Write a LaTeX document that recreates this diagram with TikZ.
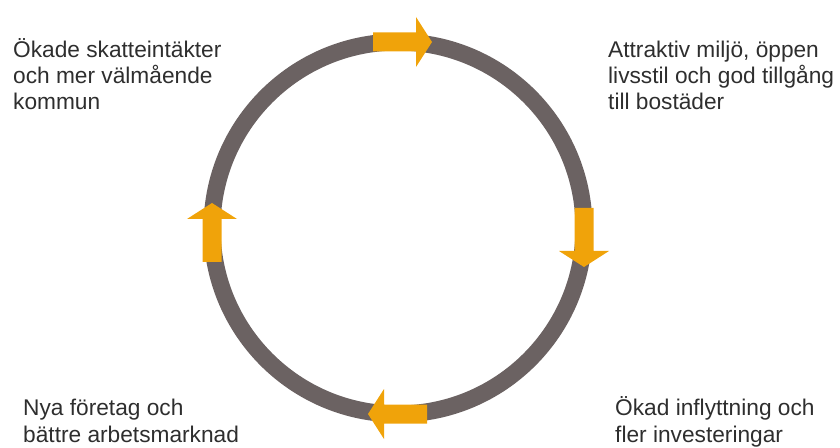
\documentclass[tikz,border=0pt]{standalone}
\usepackage{fontspec}
\setmainfont{Liberation Sans}
\definecolor{ringgray}{HTML}{6B6262}
\definecolor{arrowor}{HTML}{F0A30A}
\definecolor{txt}{HTML}{2E2E2E}
\tikzset{
  flowarrow/.pic={\fill[arrowor] (0,-9.5) -- (43,-9.5) -- (43,-25) -- (59,0) -- (43,25) -- (43,9.5) -- (0,9.5) -- cycle;},
  label/.style={align=left, text=txt, inner sep=0pt, font=\fontsize{22.7}{26.2}\selectfont},
}
\begin{document}
\begin{tikzpicture}[x=1pt,y=1pt]
\useasboundingbox (0,0) rectangle (840,447);
\coordinate (c) at (398,219);
\draw[ringgray, line width=17pt] (c) circle[radius=186];
\coordinate (a1) at (373,405);
\coordinate (a2) at (584,239);
\coordinate (a3) at (427,33);
\coordinate (a4) at (212,185);
\pic at (a1) {flowarrow};
\pic[rotate=-90] at (a2) {flowarrow};
\pic[rotate=180] at (a3) {flowarrow};
\pic[rotate=90] at (a4) {flowarrow};
\node[label, anchor=base west] (t1) at (13,337) {Ökade skatteintäkter\\och mer välmående\\kommun};
\node[label, anchor=base west] (t2) at (608,337) {Attraktiv miljö, öppen\\livsstil och god tillgång\\till bostäder};
\node[label, anchor=base west] (t3) at (23,5) {Nya företag och\\bättre arbetsmarknad};
\node[label, anchor=base west] (t4) at (615,5) {Ökad inflyttning och\\fler investeringar};
\end{tikzpicture}
\end{document}
